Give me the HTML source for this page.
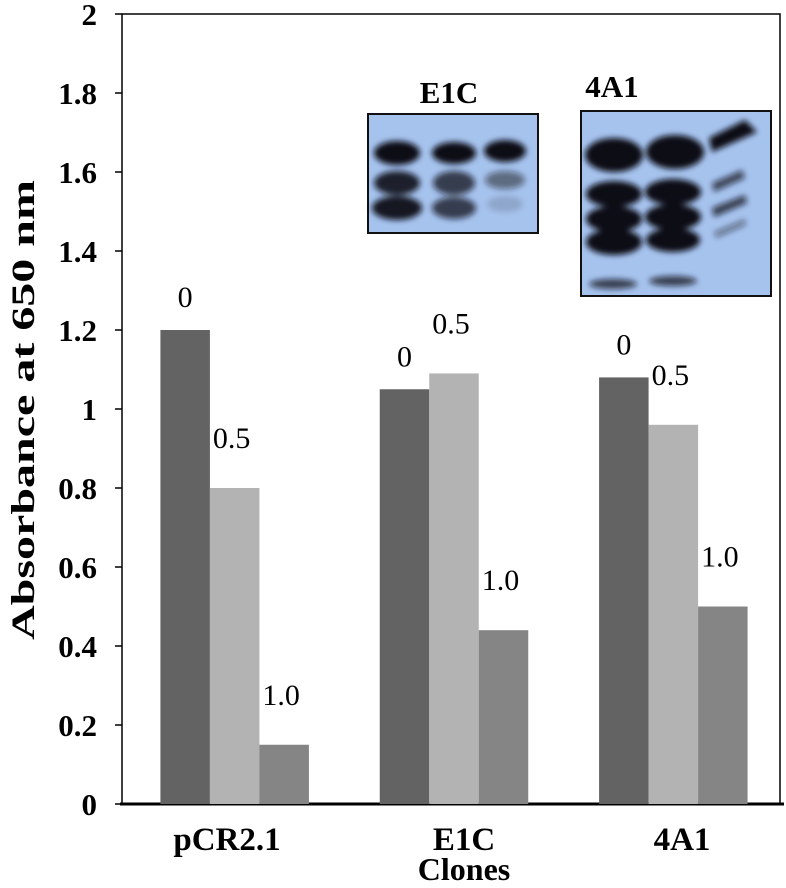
<!DOCTYPE html>
<html><head><meta charset="utf-8"><style>
body{margin:0;background:#fff}
svg{display:block;font-family:"Liberation Serif",serif}
</style></head><body>
<svg id="c" width="786" height="888" viewBox="0 0 786 888">
<defs><filter id="bl" x="-20%" y="-50%" width="140%" height="200%"><feGaussianBlur stdDeviation="3"/></filter></defs>
<g id="axes"></g><g id="bars"></g>
<g>
<text x="449" y="103" text-anchor="middle" font-size="31" font-weight="bold">E1C</text>
<rect x="368" y="114" width="170" height="119" fill="#a6c3ee" stroke="#111" stroke-width="2"/>
<g filter="url(#bl)" fill="#101018">
<ellipse cx="397" cy="153" rx="23" ry="12"/><ellipse cx="454" cy="153" rx="22" ry="11"/><ellipse cx="505" cy="151" rx="21" ry="11"/>
<ellipse cx="397" cy="183" rx="23" ry="12" opacity=".9"/><ellipse cx="454" cy="183" rx="21" ry="12" opacity=".75"/><ellipse cx="505" cy="180" rx="20" ry="9" opacity=".5"/>
<ellipse cx="397" cy="208" rx="25" ry="12" opacity=".95"/><ellipse cx="454" cy="208" rx="22" ry="11" opacity=".75"/><ellipse cx="505" cy="204" rx="18" ry="8" opacity=".15"/>
</g></g>
<g>
<text x="612" y="97" text-anchor="middle" font-size="31" font-weight="bold">4A1</text>
<rect x="581" y="111" width="190" height="185" fill="#a6c3ee" stroke="#111" stroke-width="2"/>
<g filter="url(#bl)" fill="#101018">
<ellipse cx="614" cy="155" rx="29" ry="17"/><ellipse cx="675" cy="152" rx="29" ry="17"/><path d="M709 138 L745 120 L757 132 L712 152 Z"/>
<ellipse cx="614" cy="194" rx="28" ry="13"/><ellipse cx="673" cy="192" rx="28" ry="13"/><path d="M712 183 L742 170 L745 178 L714 192 Z" opacity=".7"/>
<ellipse cx="614" cy="219" rx="28" ry="13"/><ellipse cx="673" cy="217" rx="28" ry="13"/><path d="M712 208 L745 195 L747 203 L714 217 Z" opacity=".75"/>
<ellipse cx="614" cy="242" rx="28" ry="13"/><ellipse cx="673" cy="240" rx="27" ry="12"/><path d="M714 232 L745 219 L746 225 L716 238 Z" opacity=".45"/>
<ellipse cx="613" cy="284" rx="24" ry="5" opacity=".75"/><ellipse cx="673" cy="281" rx="24" ry="5" opacity=".75"/>
</g></g>
</svg>
<script>
const categories=["pCR2.1","E1C","4A1"];
const seriesLabels=["0","0.5","1.0"];
const series0=[1.2,1.05,1.08];
const series05=[0.8,1.09,0.96];
const series10=[0.15,0.44,0.5];
const yTicks=[0,0.2,0.4,0.6,0.8,1,1.2,1.4,1.6,1.8,2];
const yTickLabels=["0","0.2","0.4","0.6","0.8","1","1.2","1.4","1.6","1.8","2"];
const NS="http://www.w3.org/2000/svg";
const X0=122,X1=780,Y0=804,Y1=14;
const y=v=>Y0-(v/2)*(Y0-Y1);
const band=(X1-X0)/categories.length;
const bw=49.5;
const x=(i,s)=>X0+band*(i+0.5)-1.5*bw+s*bw+3;
function mk(t,a,p){const e=document.createElementNS(NS,t);for(const k in a)e.setAttribute(k,a[k]);p.appendChild(e);return e;}
const ax=document.getElementById('axes'),bg=document.getElementById('bars');
let f=mk('rect',{x:X0,y:Y1,width:X1-X0,height:Y0-Y1,fill:'none',stroke:'#000','stroke-width':1.5},ax);


yTicks.forEach((v,i)=>{
 const l=mk('line',{x1:X0-7,x2:X0,y1:y(v),y2:y(v),stroke:'#000','stroke-width':1.5},ax);
 
 
 const t=mk('text',{x:97,y:y(v)+11,'text-anchor':'end','font-size':31,'font-weight':'bold'},ax);
 t.textContent=yTickLabels[i];
 
 
});
let bl=mk('line',{x1:X0-2,x2:X1+4,y1:Y0,y2:Y0,stroke:'#000','stroke-width':3},ax);


let yt=mk('text',{x:0,y:0,transform:'translate(34,410) rotate(-90)','text-anchor':'middle','font-size':33,'font-weight':'bold',textLength:460,lengthAdjust:'spacingAndGlyphs'},ax);
yt.textContent='Absorbance at 650 nm';


const cols=['#636363','#b3b3b3','#858585'];
const all=[series0,series05,series10];
const labCx=[227,464,682];
categories.forEach((c,i)=>{
 all.forEach((s,k)=>{
  const r=mk('rect',{x:x(i,k),y:y(s[i]),width:bw,height:Y0-y(s[i]),fill:cols[k]},bg);
  
  
  const t=mk('text',{x:k==0?x(i,k)+bw/2:x(i,k)+3,y:y(s[i])-(k==0?23:40),'text-anchor':k==0?'middle':'start','font-size':30},bg);
  t.textContent=seriesLabels[k];
  
  
 });
 const t=mk('text',{x:labCx[i],y:850,'text-anchor':'middle','font-size':33,'font-weight':'bold'},ax);
 t.textContent=c;
 
 
});
let xt=mk('text',{x:464,y:880,'text-anchor':'middle','font-size':32,'font-weight':'bold'},ax);
xt.textContent='Clones';


</script>
</body></html>
